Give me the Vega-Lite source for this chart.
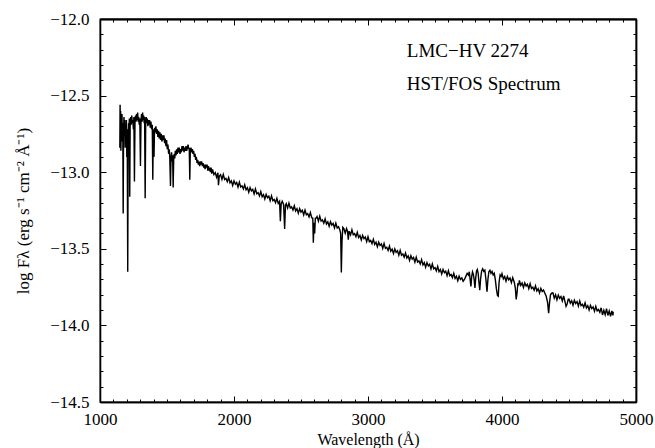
{
  "$schema": "https://vega.github.io/schema/vega-lite/v6.json",
  "width": 536,
  "height": 383,
  "autosize": {"type": "none"},
  "padding": {"left": 100, "top": 19, "right": 19, "bottom": 46},
  "config": {
    "view": {"stroke": "black", "strokeWidth": 1.3},
    "font": "Liberation Serif",
    "axis": {
      "labelFont": "Liberation Serif",
      "titleFont": "Liberation Serif",
      "labelColor": "black",
      "titleColor": "black",
      "domainColor": "black",
      "domainWidth": 1.3,
      "gridColor": "transparent"
    }
  },
  "datasets": {
    "spectrum": [
      {"wavelength":1148,"flux":-12.84},{"wavelength":1150,"flux":-12.56},{"wavelength":1152,"flux":-12.78},{"wavelength":1154,"flux":-12.60},{"wavelength":1156,"flux":-12.86},{"wavelength":1158,"flux":-12.66},{"wavelength":1161,"flux":-12.74},{"wavelength":1164,"flux":-12.62},{"wavelength":1167,"flux":-12.80},{"wavelength":1170,"flux":-12.68},{"wavelength":1173,"flux":-13.27},{"wavelength":1176,"flux":-12.72},{"wavelength":1179,"flux":-12.64},{"wavelength":1182,"flux":-12.76},{"wavelength":1185,"flux":-12.66},{"wavelength":1188,"flux":-12.84},{"wavelength":1191,"flux":-12.70},{"wavelength":1194,"flux":-12.78},{"wavelength":1197,"flux":-12.66},{"wavelength":1200,"flux":-12.90},{"wavelength":1203,"flux":-12.72},{"wavelength":1207,"flux":-13.65},{"wavelength":1210,"flux":-12.80},{"wavelength":1213,"flux":-12.68},{"wavelength":1216,"flux":-12.74},{"wavelength":1219,"flux":-12.65},{"wavelength":1222,"flux":-13.16},{"wavelength":1225,"flux":-12.70},{"wavelength":1229,"flux":-12.64},{"wavelength":1233,"flux":-12.69},{"wavelength":1237,"flux":-12.63},{"wavelength":1241,"flux":-12.68},{"wavelength":1245,"flux":-12.66},{"wavelength":1249,"flux":-12.72},{"wavelength":1253,"flux":-12.64},{"wavelength":1257,"flux":-13.06},{"wavelength":1261,"flux":-12.68},{"wavelength":1265,"flux":-12.63},{"wavelength":1269,"flux":-12.67},{"wavelength":1273,"flux":-12.62},{"wavelength":1277,"flux":-12.66},{"wavelength":1281,"flux":-12.61},{"wavelength":1285,"flux":-12.67},{"wavelength":1289,"flux":-12.64},{"wavelength":1293,"flux":-12.69},{"wavelength":1297,"flux":-12.65},{"wavelength":1302,"flux":-12.96},{"wavelength":1306,"flux":-12.66},{"wavelength":1310,"flux":-12.62},{"wavelength":1314,"flux":-12.67},{"wavelength":1318,"flux":-12.61},{"wavelength":1322,"flux":-12.66},{"wavelength":1326,"flux":-12.63},{"wavelength":1330,"flux":-12.68},{"wavelength":1333,"flux":-12.64},{"wavelength":1337,"flux":-13.17},{"wavelength":1341,"flux":-12.69},{"wavelength":1345,"flux":-12.64},{"wavelength":1349,"flux":-12.68},{"wavelength":1353,"flux":-12.65},{"wavelength":1357,"flux":-12.70},{"wavelength":1361,"flux":-12.66},{"wavelength":1365,"flux":-12.69},{"wavelength":1370,"flux":-12.66},{"wavelength":1375,"flux":-12.71},{"wavelength":1380,"flux":-12.67},{"wavelength":1385,"flux":-12.72},{"wavelength":1390,"flux":-12.69},{"wavelength":1394,"flux":-13.05},{"wavelength":1398,"flux":-12.72},{"wavelength":1403,"flux":-12.90},{"wavelength":1407,"flux":-12.71},{"wavelength":1412,"flux":-12.74},{"wavelength":1417,"flux":-12.70},{"wavelength":1422,"flux":-12.75},{"wavelength":1427,"flux":-12.72},{"wavelength":1432,"flux":-12.77},{"wavelength":1437,"flux":-12.73},{"wavelength":1442,"flux":-12.78},{"wavelength":1447,"flux":-12.74},{"wavelength":1452,"flux":-12.79},{"wavelength":1457,"flux":-12.75},{"wavelength":1462,"flux":-12.80},{"wavelength":1467,"flux":-12.76},{"wavelength":1472,"flux":-12.79},{"wavelength":1477,"flux":-12.76},{"wavelength":1482,"flux":-12.81},{"wavelength":1487,"flux":-12.78},{"wavelength":1492,"flux":-12.83},{"wavelength":1497,"flux":-12.79},{"wavelength":1502,"flux":-12.85},{"wavelength":1507,"flux":-12.82},{"wavelength":1512,"flux":-12.88},{"wavelength":1517,"flux":-12.85},{"wavelength":1521,"flux":-12.91},{"wavelength":1526,"flux":-13.09},{"wavelength":1530,"flux":-12.90},{"wavelength":1534,"flux":-12.87},{"wavelength":1538,"flux":-12.93},{"wavelength":1542,"flux":-12.89},{"wavelength":1546,"flux":-13.10},{"wavelength":1550,"flux":-12.92},{"wavelength":1554,"flux":-12.88},{"wavelength":1558,"flux":-12.91},{"wavelength":1562,"flux":-12.86},{"wavelength":1567,"flux":-12.89},{"wavelength":1572,"flux":-12.85},{"wavelength":1577,"flux":-12.88},{"wavelength":1582,"flux":-12.84},{"wavelength":1587,"flux":-12.87},{"wavelength":1592,"flux":-12.84},{"wavelength":1597,"flux":-12.88},{"wavelength":1602,"flux":-12.85},{"wavelength":1607,"flux":-12.87},{"wavelength":1612,"flux":-12.83},{"wavelength":1617,"flux":-12.86},{"wavelength":1622,"flux":-12.83},{"wavelength":1627,"flux":-12.87},{"wavelength":1632,"flux":-12.84},{"wavelength":1637,"flux":-12.86},{"wavelength":1642,"flux":-12.83},{"wavelength":1647,"flux":-12.86},{"wavelength":1652,"flux":-12.84},{"wavelength":1657,"flux":-12.82},{"wavelength":1662,"flux":-12.85},{"wavelength":1666,"flux":-12.84},{"wavelength":1670,"flux":-13.05},{"wavelength":1674,"flux":-12.86},{"wavelength":1679,"flux":-12.84},{"wavelength":1684,"flux":-12.87},{"wavelength":1689,"flux":-12.85},{"wavelength":1694,"flux":-12.88},{"wavelength":1699,"flux":-12.86},{"wavelength":1704,"flux":-12.90},{"wavelength":1709,"flux":-12.88},{"wavelength":1714,"flux":-12.92},{"wavelength":1719,"flux":-12.90},{"wavelength":1724,"flux":-12.94},{"wavelength":1729,"flux":-12.92},{"wavelength":1734,"flux":-12.95},{"wavelength":1739,"flux":-12.93},{"wavelength":1744,"flux":-12.96},{"wavelength":1749,"flux":-12.93},{"wavelength":1754,"flux":-12.95},{"wavelength":1759,"flux":-12.93},{"wavelength":1764,"flux":-12.96},{"wavelength":1769,"flux":-12.94},{"wavelength":1774,"flux":-12.97},{"wavelength":1779,"flux":-12.95},{"wavelength":1784,"flux":-12.98},{"wavelength":1789,"flux":-12.95},{"wavelength":1794,"flux":-12.97},{"wavelength":1799,"flux":-12.95},{"wavelength":1804,"flux":-12.99},{"wavelength":1809,"flux":-12.96},{"wavelength":1814,"flux":-12.99},{"wavelength":1819,"flux":-12.97},{"wavelength":1824,"flux":-13.00},{"wavelength":1829,"flux":-12.97},{"wavelength":1834,"flux":-13.01},
      {"wavelength":1840,"flux":-12.982},{"wavelength":1850,"flux":-13.016},{"wavelength":1860,"flux":-13.003},{"wavelength":1870,"flux":-13.033},{"wavelength":1880,"flux":-13.004},{"wavelength":1884,"flux":-13.085},{"wavelength":1890,"flux":-13.026},{"wavelength":1900,"flux":-13.016},{"wavelength":1910,"flux":-13.047},{"wavelength":1920,"flux":-13.015},{"wavelength":1930,"flux":-13.048},{"wavelength":1940,"flux":-13.041},{"wavelength":1950,"flux":-13.062},{"wavelength":1960,"flux":-13.035},{"wavelength":1970,"flux":-13.069},{"wavelength":1980,"flux":-13.056},{"wavelength":1990,"flux":-13.086},{"wavelength":2000,"flux":-13.056},{"wavelength":2010,"flux":-13.078},{"wavelength":2020,"flux":-13.067},{"wavelength":2030,"flux":-13.097},{"wavelength":2040,"flux":-13.065},{"wavelength":2050,"flux":-13.097},{"wavelength":2060,"flux":-13.089},{"wavelength":2070,"flux":-13.110},{"wavelength":2080,"flux":-13.082},{"wavelength":2090,"flux":-13.115},{"wavelength":2100,"flux":-13.101},{"wavelength":2110,"flux":-13.131},{"wavelength":2120,"flux":-13.101},{"wavelength":2130,"flux":-13.122},{"wavelength":2140,"flux":-13.112},{"wavelength":2150,"flux":-13.142},{"wavelength":2160,"flux":-13.109},{"wavelength":2170,"flux":-13.141},{"wavelength":2180,"flux":-13.134},{"wavelength":2190,"flux":-13.155},{"wavelength":2200,"flux":-13.126},{"wavelength":2210,"flux":-13.160},{"wavelength":2220,"flux":-13.146},{"wavelength":2230,"flux":-13.175},{"wavelength":2240,"flux":-13.145},{"wavelength":2250,"flux":-13.167},{"wavelength":2260,"flux":-13.157},{"wavelength":2270,"flux":-13.186},{"wavelength":2280,"flux":-13.154},{"wavelength":2290,"flux":-13.186},{"wavelength":2300,"flux":-13.178},{"wavelength":2310,"flux":-13.199},{"wavelength":2320,"flux":-13.171},{"wavelength":2330,"flux":-13.204},{"wavelength":2340,"flux":-13.190},{"wavelength":2346,"flux":-13.320},{"wavelength":2352,"flux":-13.205},{"wavelength":2360,"flux":-13.190},{"wavelength":2370,"flux":-13.211},{"wavelength":2378,"flux":-13.370},{"wavelength":2384,"flux":-13.215},{"wavelength":2390,"flux":-13.205},{"wavelength":2400,"flux":-13.234},{"wavelength":2410,"flux":-13.202},{"wavelength":2420,"flux":-13.234},{"wavelength":2430,"flux":-13.227},{"wavelength":2440,"flux":-13.247},{"wavelength":2450,"flux":-13.219},{"wavelength":2460,"flux":-13.253},{"wavelength":2470,"flux":-13.238},{"wavelength":2480,"flux":-13.268},{"wavelength":2490,"flux":-13.238},{"wavelength":2500,"flux":-13.260},{"wavelength":2510,"flux":-13.249},{"wavelength":2520,"flux":-13.279},{"wavelength":2530,"flux":-13.247},{"wavelength":2540,"flux":-13.278},{"wavelength":2550,"flux":-13.271},{"wavelength":2560,"flux":-13.292},{"wavelength":2570,"flux":-13.264},{"wavelength":2580,"flux":-13.297},{"wavelength":2588,"flux":-13.300},{"wavelength":2592,"flux":-13.460},{"wavelength":2597,"flux":-13.330},{"wavelength":2602,"flux":-13.400},{"wavelength":2607,"flux":-13.300},{"wavelength":2614,"flux":-13.300},{"wavelength":2620,"flux":-13.290},{"wavelength":2630,"flux":-13.320},{"wavelength":2640,"flux":-13.287},{"wavelength":2650,"flux":-13.319},{"wavelength":2660,"flux":-13.312},{"wavelength":2670,"flux":-13.333},{"wavelength":2680,"flux":-13.304},{"wavelength":2690,"flux":-13.338},{"wavelength":2700,"flux":-13.324},{"wavelength":2710,"flux":-13.353},{"wavelength":2720,"flux":-13.323},{"wavelength":2730,"flux":-13.345},{"wavelength":2740,"flux":-13.335},{"wavelength":2750,"flux":-13.364},{"wavelength":2760,"flux":-13.332},{"wavelength":2770,"flux":-13.364},{"wavelength":2780,"flux":-13.356},{"wavelength":2790,"flux":-13.377},{"wavelength":2796,"flux":-13.400},{"wavelength":2801,"flux":-13.655},{"wavelength":2806,"flux":-13.450},{"wavelength":2812,"flux":-13.360},{"wavelength":2820,"flux":-13.368},{"wavelength":2830,"flux":-13.398},{"wavelength":2840,"flux":-13.368},{"wavelength":2847,"flux":-13.385},{"wavelength":2853,"flux":-13.440},{"wavelength":2859,"flux":-13.385},{"wavelength":2870,"flux":-13.409},{"wavelength":2880,"flux":-13.376},{"wavelength":2890,"flux":-13.408},{"wavelength":2900,"flux":-13.401},{"wavelength":2910,"flux":-13.421},{"wavelength":2920,"flux":-13.393},{"wavelength":2930,"flux":-13.427},{"wavelength":2940,"flux":-13.413},{"wavelength":2950,"flux":-13.442},{"wavelength":2960,"flux":-13.412},{"wavelength":2970,"flux":-13.434},{"wavelength":2980,"flux":-13.423},{"wavelength":2990,"flux":-13.453},{"wavelength":3000,"flux":-13.421},{"wavelength":3010,"flux":-13.453},{"wavelength":3020,"flux":-13.445},{"wavelength":3030,"flux":-13.466},{"wavelength":3040,"flux":-13.438},{"wavelength":3050,"flux":-13.472},{"wavelength":3060,"flux":-13.457},{"wavelength":3070,"flux":-13.487},{"wavelength":3080,"flux":-13.457},{"wavelength":3090,"flux":-13.478},{"wavelength":3100,"flux":-13.468},{"wavelength":3110,"flux":-13.498},{"wavelength":3120,"flux":-13.465},{"wavelength":3130,"flux":-13.497},{"wavelength":3140,"flux":-13.490},{"wavelength":3150,"flux":-13.511},{"wavelength":3160,"flux":-13.482},{"wavelength":3170,"flux":-13.516},{"wavelength":3180,"flux":-13.502},{"wavelength":3190,"flux":-13.531},{"wavelength":3200,"flux":-13.501},{"wavelength":3210,"flux":-13.523},{"wavelength":3220,"flux":-13.512},{"wavelength":3230,"flux":-13.542},{"wavelength":3240,"flux":-13.510},{"wavelength":3250,"flux":-13.542},{"wavelength":3260,"flux":-13.534},{"wavelength":3270,"flux":-13.555},{"wavelength":3280,"flux":-13.527},{"wavelength":3290,"flux":-13.560},{"wavelength":3300,"flux":-13.546},{"wavelength":3310,"flux":-13.576},{"wavelength":3320,"flux":-13.545},{"wavelength":3330,"flux":-13.567},{"wavelength":3340,"flux":-13.557},{"wavelength":3350,"flux":-13.587},{"wavelength":3360,"flux":-13.554},{"wavelength":3370,"flux":-13.586},{"wavelength":3380,"flux":-13.579},{"wavelength":3390,"flux":-13.599},{"wavelength":3400,"flux":-13.571},{"wavelength":3410,"flux":-13.605},{"wavelength":3420,"flux":-13.590},{"wavelength":3430,"flux":-13.620},{"wavelength":3440,"flux":-13.590},{"wavelength":3450,"flux":-13.612},{"wavelength":3460,"flux":-13.601},{"wavelength":3470,"flux":-13.631},{"wavelength":3480,"flux":-13.599},{"wavelength":3490,"flux":-13.630},{"wavelength":3500,"flux":-13.623},{"wavelength":3510,"flux":-13.644},{"wavelength":3520,"flux":-13.615},{"wavelength":3530,"flux":-13.649},{"wavelength":3540,"flux":-13.635},{"wavelength":3550,"flux":-13.665},{"wavelength":3560,"flux":-13.634},{"wavelength":3570,"flux":-13.656},{"wavelength":3580,"flux":-13.646},{"wavelength":3590,"flux":-13.675},{"wavelength":3600,"flux":-13.643},{"wavelength":3610,"flux":-13.675},{"wavelength":3620,"flux":-13.667},{"wavelength":3630,"flux":-13.688},{"wavelength":3640,"flux":-13.660},{"wavelength":3650,"flux":-13.694},{"wavelength":3660,"flux":-13.679},{"wavelength":3670,"flux":-13.709},{"wavelength":3680,"flux":-13.679},{"wavelength":3690,"flux":-13.700},{"wavelength":3700,"flux":-13.690},{"wavelength":3710,"flux":-13.712},{"wavelength":3720,"flux":-13.700},{"wavelength":3730,"flux":-13.680},{"wavelength":3740,"flux":-13.660},{"wavelength":3750,"flux":-13.672},{"wavelength":3756,"flux":-13.650},{"wavelength":3762,"flux":-13.700},{"wavelength":3768,"flux":-13.745},{"wavelength":3774,"flux":-13.680},{"wavelength":3780,"flux":-13.650},{"wavelength":3786,"flux":-13.665},{"wavelength":3792,"flux":-13.700},{"wavelength":3798,"flux":-13.755},{"wavelength":3804,"flux":-13.690},{"wavelength":3810,"flux":-13.645},{"wavelength":3816,"flux":-13.635},{"wavelength":3822,"flux":-13.660},{"wavelength":3828,"flux":-13.720},{"wavelength":3834,"flux":-13.770},{"wavelength":3840,"flux":-13.700},{"wavelength":3848,"flux":-13.645},{"wavelength":3856,"flux":-13.630},{"wavelength":3864,"flux":-13.648},{"wavelength":3872,"flux":-13.640},{"wavelength":3880,"flux":-13.700},{"wavelength":3888,"flux":-13.780},{"wavelength":3895,"flux":-13.700},{"wavelength":3902,"flux":-13.650},{"wavelength":3910,"flux":-13.640},{"wavelength":3918,"flux":-13.660},{"wavelength":3926,"flux":-13.648},{"wavelength":3934,"flux":-13.670},{"wavelength":3942,"flux":-13.660},{"wavelength":3950,"flux":-13.700},{"wavelength":3958,"flux":-13.760},{"wavelength":3966,"flux":-13.805},{"wavelength":3972,"flux":-13.810},{"wavelength":3978,"flux":-13.720},{"wavelength":3986,"flux":-13.670},{"wavelength":3994,"flux":-13.680},{"wavelength":4000,"flux":-13.662},{"wavelength":4010,"flux":-13.696},{"wavelength":4020,"flux":-13.681},{"wavelength":4030,"flux":-13.711},{"wavelength":4040,"flux":-13.680},{"wavelength":4050,"flux":-13.702},{"wavelength":4060,"flux":-13.691},{"wavelength":4070,"flux":-13.721},{"wavelength":4080,"flux":-13.688},{"wavelength":4092,"flux":-13.720},{"wavelength":4100,"flux":-13.760},{"wavelength":4106,"flux":-13.830},{"wavelength":4112,"flux":-13.790},{"wavelength":4118,"flux":-13.730},{"wavelength":4125,"flux":-13.735},{"wavelength":4130,"flux":-13.706},{"wavelength":4140,"flux":-13.739},{"wavelength":4150,"flux":-13.724},{"wavelength":4160,"flux":-13.753},{"wavelength":4170,"flux":-13.722},{"wavelength":4180,"flux":-13.743},{"wavelength":4190,"flux":-13.732},{"wavelength":4200,"flux":-13.761},{"wavelength":4210,"flux":-13.728},{"wavelength":4220,"flux":-13.759},{"wavelength":4230,"flux":-13.751},{"wavelength":4240,"flux":-13.771},{"wavelength":4250,"flux":-13.742},{"wavelength":4260,"flux":-13.775},{"wavelength":4270,"flux":-13.760},{"wavelength":4280,"flux":-13.789},{"wavelength":4290,"flux":-13.758},{"wavelength":4300,"flux":-13.779},{"wavelength":4310,"flux":-13.769},{"wavelength":4320,"flux":-13.790},{"wavelength":4330,"flux":-13.810},{"wavelength":4340,"flux":-13.850},{"wavelength":4348,"flux":-13.920},{"wavelength":4355,"flux":-13.850},{"wavelength":4362,"flux":-13.800},{"wavelength":4370,"flux":-13.790},{"wavelength":4380,"flux":-13.788},{"wavelength":4390,"flux":-13.822},{"wavelength":4400,"flux":-13.800},{"wavelength":4410,"flux":-13.833},{"wavelength":4420,"flux":-13.802},{"wavelength":4430,"flux":-13.823},{"wavelength":4440,"flux":-13.812},{"wavelength":4450,"flux":-13.841},{"wavelength":4460,"flux":-13.808},{"wavelength":4470,"flux":-13.845},{"wavelength":4478,"flux":-13.875},{"wavelength":4486,"flux":-13.860},{"wavelength":4494,"flux":-13.830},{"wavelength":4500,"flux":-13.828},{"wavelength":4510,"flux":-13.855},{"wavelength":4520,"flux":-13.839},{"wavelength":4530,"flux":-13.868},{"wavelength":4540,"flux":-13.836},{"wavelength":4550,"flux":-13.857},{"wavelength":4560,"flux":-13.845},{"wavelength":4570,"flux":-13.874},{"wavelength":4580,"flux":-13.840},{"wavelength":4590,"flux":-13.871},{"wavelength":4600,"flux":-13.862},{"wavelength":4610,"flux":-13.882},{"wavelength":4620,"flux":-13.853},{"wavelength":4630,"flux":-13.886},{"wavelength":4640,"flux":-13.871},{"wavelength":4650,"flux":-13.900},{"wavelength":4660,"flux":-13.869},{"wavelength":4670,"flux":-13.890},{"wavelength":4680,"flux":-13.879},{"wavelength":4690,"flux":-13.908},{"wavelength":4700,"flux":-13.875},{"wavelength":4710,"flux":-13.905},{"wavelength":4720,"flux":-13.896},{"wavelength":4730,"flux":-13.915},{"wavelength":4740,"flux":-13.885},{"wavelength":4750,"flux":-13.932},{"wavelength":4760,"flux":-13.901},{"wavelength":4770,"flux":-13.930},{"wavelength":4780,"flux":-13.891},{"wavelength":4790,"flux":-13.935},{"wavelength":4800,"flux":-13.905},{"wavelength":4810,"flux":-13.940},{"wavelength":4820,"flux":-13.905},{"wavelength":4828,"flux":-13.935},{"wavelength":4830,"flux":-13.910}
    ],
    "notes": [
      {"wavelength": 3290, "flux": -12.25, "label": "LMC−HV 2274"},
      {"wavelength": 3290, "flux": -12.463, "label": "HST/FOS Spectrum"}
    ]
  },
  "resolve": {"axis": {"x": "independent", "y": "independent"}},
  "layer": [
    {
      "data": {"name": "spectrum"},
      "mark": {"type": "line", "color": "black", "strokeWidth": 1.4},
      "encoding": {
        "x": {"field": "wavelength", "type": "quantitative", "scale": {"domain": [1000, 5000], "nice": false, "zero": false},
          "axis": {"orient": "bottom", "values": [1000,1100,1200,1300,1400,1500,1600,1700,1800,1900,2000,2100,2200,2300,2400,2500,2600,2700,2800,2900,3000,3100,3200,3300,3400,3500,3600,3700,3800,3900,4000,4100,4200,4300,4400,4500,4600,4700,4800,4900,5000], "format": "d", "labelExpr": "datum.value % 1000 === 0 ? datum.label : ''", "tickSize": -3, "tickWidth": 1, "tickColor": "black", "labelFlush": false, "labelOverlap": false, "labelPadding": 12, "labelFontSize": 17, "title": "Wavelength (Å)", "titleFontSize": 16, "titleFontWeight": "normal", "titlePadding": 4}},
        "y": {"field": "flux", "type": "quantitative", "scale": {"domain": [-14.5, -12.0], "nice": false, "zero": false},
          "axis": {"orient": "left", "values": [-14.5,-14.4,-14.3,-14.2,-14.1,-14.0,-13.9,-13.8,-13.7,-13.6,-13.5,-13.4,-13.3,-13.2,-13.1,-13.0,-12.9,-12.8,-12.7,-12.6,-12.5,-12.4,-12.3,-12.2,-12.1,-12.0], "format": ".1f", "labelExpr": "abs(round(datum.value * 10)) % 5 === 0 ? datum.label : ''", "tickSize": -3, "tickWidth": 1, "tickColor": "black", "labelOverlap": false, "labelPadding": 14, "labelFontSize": 17, "title": "log Fλ (erg s⁻¹ cm⁻² Å⁻¹)", "titleFontSize": 17, "titleFontWeight": "normal", "titlePadding": 17}}
      }
    },
    {
      "data": {"name": "spectrum"},
      "mark": {"type": "line", "color": "black", "strokeWidth": 1, "opacity": 0.01},
      "encoding": {
        "x": {"field": "wavelength", "type": "quantitative", "axis": {"orient": "top", "values": [1000,1100,1200,1300,1400,1500,1600,1700,1800,1900,2000,2100,2200,2300,2400,2500,2600,2700,2800,2900,3000,3100,3200,3300,3400,3500,3600,3700,3800,3900,4000,4100,4200,4300,4400,4500,4600,4700,4800,4900,5000], "labelExpr": "''", "labelOverlap": false, "tickSize": -3, "tickWidth": 1, "tickColor": "black", "title": null}},
        "y": {"field": "flux", "type": "quantitative", "axis": {"orient": "right", "values": [-14.5,-14.4,-14.3,-14.2,-14.1,-14.0,-13.9,-13.8,-13.7,-13.6,-13.5,-13.4,-13.3,-13.2,-13.1,-13.0,-12.9,-12.8,-12.7,-12.6,-12.5,-12.4,-12.3,-12.2,-12.1,-12.0], "labelExpr": "''", "labelOverlap": false, "tickSize": -3, "tickWidth": 1, "tickColor": "black", "title": null}}
      }
    },
    {
      "data": {"name": "spectrum"},
      "mark": {"type": "line", "color": "black", "strokeWidth": 1, "opacity": 0.01},
      "encoding": {
        "x": {"field": "wavelength", "type": "quantitative", "axis": {"orient": "bottom", "values": [1000, 2000, 3000, 4000, 5000], "labelExpr": "''", "tickSize": -6, "tickWidth": 1, "tickColor": "black", "title": null}},
        "y": {"field": "flux", "type": "quantitative", "axis": {"orient": "left", "values": [-14.5, -14.0, -13.5, -13.0, -12.5, -12.0], "labelExpr": "''", "tickSize": -6, "tickWidth": 1, "tickColor": "black", "title": null}}
      }
    },
    {
      "data": {"name": "spectrum"},
      "mark": {"type": "line", "color": "black", "strokeWidth": 1, "opacity": 0.01},
      "encoding": {
        "x": {"field": "wavelength", "type": "quantitative", "axis": {"orient": "top", "values": [1000, 2000, 3000, 4000, 5000], "labelExpr": "''", "tickSize": -6, "tickWidth": 1, "tickColor": "black", "title": null}},
        "y": {"field": "flux", "type": "quantitative", "axis": {"orient": "right", "values": [-14.5, -14.0, -13.5, -13.0, -12.5, -12.0], "labelExpr": "''", "tickSize": -6, "tickWidth": 1, "tickColor": "black", "title": null}}
      }
    },
    {
      "data": {"name": "notes"},
      "mark": {"type": "text", "align": "left", "baseline": "alphabetic", "font": "Liberation Serif", "fontSize": 19, "color": "black"},
      "encoding": {
        "x": {"field": "wavelength", "type": "quantitative", "axis": {"orient": "top", "values": [1000], "labelExpr": "''", "tickOpacity": 0, "title": null}},
        "y": {"field": "flux", "type": "quantitative", "axis": {"orient": "right", "values": [-12.0], "labelExpr": "''", "tickOpacity": 0, "title": null}},
        "text": {"field": "label"}
      }
    }
  ]
}
